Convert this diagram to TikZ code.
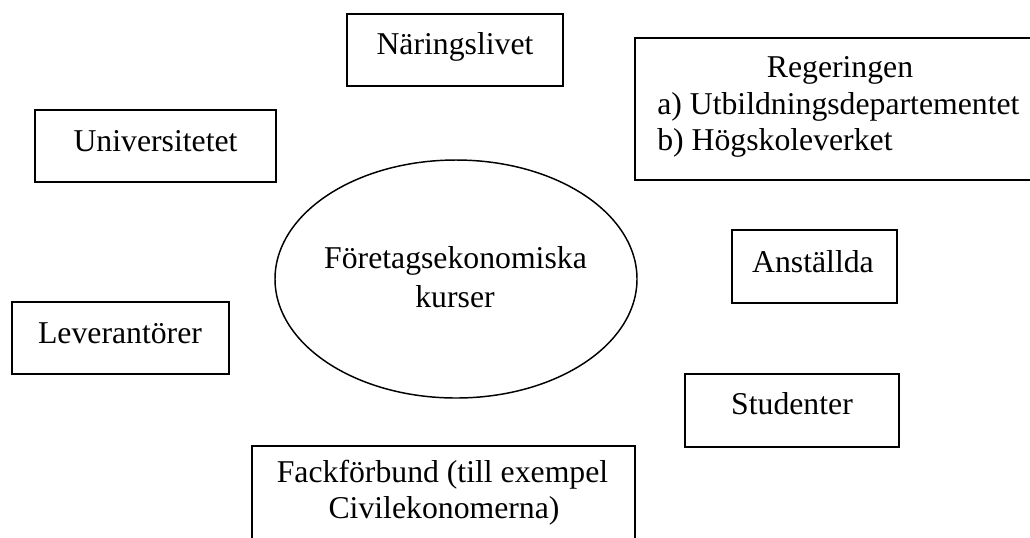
\documentclass[tikz,border=0pt]{standalone}
\usepackage{fontspec}
\setmainfont{Liberation Serif}
\usetikzlibrary{shapes.geometric}
\begin{document}
\begin{tikzpicture}[x=0.75pt,y=-0.75pt,
  box/.style={draw=black,line width=1.1pt,rectangle,inner sep=0pt},
  oval/.style={draw=black,line width=1.1pt,ellipse,inner sep=0pt},
  txt/.style={anchor=base,inner sep=0pt,font=\fontsize{23.8}{29}\selectfont},
  txtl/.style={txt,anchor=base west}]
\useasboundingbox (0,0) rectangle (1030,537);
% boxes
\node[box,minimum width=162pt,minimum height=54pt] (nar) at (455,50) {};
\node[box,minimum width=307.5pt,minimum height=106.5pt] (reg) at (840,109) {};
\node[box,minimum width=180.75pt,minimum height=54pt] (uni) at (155.5,146) {};
\node[oval,minimum width=271.5pt,minimum height=178.5pt] (kurs) at (456,279) {};
\node[box,minimum width=123.75pt,minimum height=54.75pt] (ans) at (814.5,266.5) {};
\node[box,minimum width=160.5pt,minimum height=54.75pt] (stu) at (792,410.5) {};
\node[box,minimum width=162.75pt,minimum height=54pt] (lev) at (120.5,338) {};
\node[box,minimum width=287.25pt,minimum height=85.5pt] (fack) at (443.5,503) {};
% texts
\node[txt] (nar-t) at (455,54) {Näringslivet};
\node[txt] (reg-t) at (840,77) {Regeringen};
\node[txtl] (reg-a) at (657,114) {a) Utbildningsdepartementet};
\node[txtl] (reg-b) at (657,150) {b) Högskoleverket};
\node[txt] (uni-t) at (155.5,151) {Universitetet};
\node[txt] (kurs-t1) at (455.5,268) {Företagsekonomiska};
\node[txt] (kurs-t2) at (455,307) {kurser};
\node[txt] (ans-t) at (813,272) {Anställda};
\node[txt] (stu-t) at (792,414) {Studenter};
\node[txt] (lev-t) at (120,343) {Leverantörer};
\node[txt] (fack-t1) at (442.5,482) {Fackförbund (till exempel};
\node[txt] (fack-t2) at (444,518) {Civilekonomerna)};
\end{tikzpicture}
\end{document}
